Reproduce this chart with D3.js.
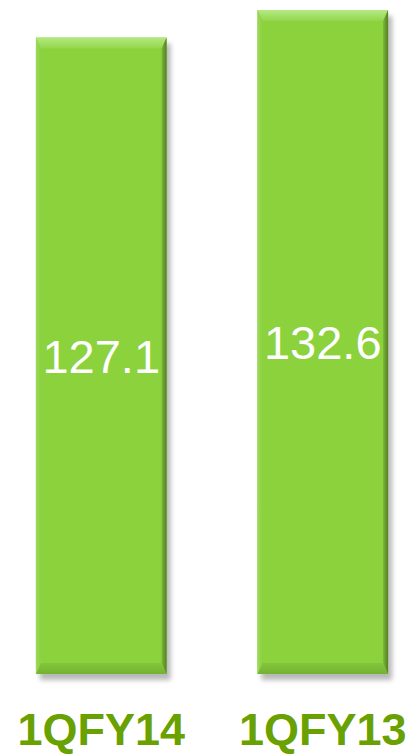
<!DOCTYPE html>
<html>
<head>
<meta charset="utf-8">
<script src="https://cdn.jsdelivr.net/npm/d3@7"></script>
<style>
  body { margin: 0; background: #fff; }
  svg { display: block; }
</style>
</head>
<body>
<svg id="chart" width="416" height="755"></svg>
<script>
// values
var categories = ['1QFY14', '1QFY13'];
var values = [127.1, 132.6];

var width = 416, height = 755;
var svg = d3.select('#chart');

var x = d3.scaleBand()
	.domain(categories)
	.range([-9.5, 433.5])
	.paddingInner(0.41)
	.paddingOuter(0.205);

var y = d3.scaleLinear()
	.domain([0, d3.max(values)])
	.range([674, 10]);

var defs = svg.append('defs');

// soft drop shadow
var f = defs.append('filter').attr('id', 'shadow')
	.attr('x', '-20%').attr('y', '-5%').attr('width', '140%').attr('height', '110%');
f.append('feGaussianBlur').attr('stdDeviation', 2.5);

function grad(id, x2, y2, stops) {
	var g = defs.append('linearGradient').attr('id', id)
		.attr('x1', 0).attr('y1', 0).attr('x2', x2).attr('y2', y2);
	stops.forEach(function (s) {
		g.append('stop').attr('offset', s[0]).attr('stop-color', s[1]);
	});
}
grad('topBevel', 0, 1, [[0, '#b4e982'], [1, '#94d64c']]);
grad('botBevel', 0, 1, [[0, '#82c63c'], [1, '#74b232']]);
grad('leftBevel', 1, 0, [[0, '#9ed85e'], [1, '#8ad23e']]);
grad('rightBevel', 1, 0, [[0, '#7ab836'], [1, '#557f22']]);

var bars = svg.selectAll('g.bar')
	.data(categories)
	.enter().append('g')
	.attr('class', 'bar');

var tb = 11, bb = 11, sb = 5; // bevel sizes

bars.each(function (c, i) {
	var g = d3.select(this);
	var x0 = x(c), w = x.bandwidth();
	var y0 = y(values[i]), y1 = y(0);

	g.append('rect')
		.attr('x', x0 + 4).attr('y', y0 + 6)
		.attr('width', w).attr('height', y1 - y0)
		.attr('fill', '#000').attr('opacity', 0.28)
		.attr('filter', 'url(#shadow)');

	g.append('rect')
		.attr('x', x0).attr('y', y0)
		.attr('width', w).attr('height', y1 - y0)
		.attr('fill', '#8bd23d');

	var poly = function (pts, fill) {
		g.append('polygon')
			.attr('points', pts.map(function (p) { return p.join(','); }).join(' '))
			.attr('fill', fill);
	};
	poly([[x0, y0], [x0 + w, y0], [x0 + w - sb, y0 + tb], [x0 + sb, y0 + tb]], 'url(#topBevel)');
	poly([[x0, y1], [x0 + sb, y1 - bb], [x0 + w - sb, y1 - bb], [x0 + w, y1]], 'url(#botBevel)');
	poly([[x0, y0], [x0 + sb, y0 + tb], [x0 + sb, y1 - bb], [x0, y1]], 'url(#leftBevel)');
	poly([[x0 + w, y0], [x0 + w, y1], [x0 + w - sb, y1 - bb], [x0 + w - sb, y0 + tb]], 'url(#rightBevel)');

	// value in the middle of the bar
	g.append('text')
		.attr('x', x0 + w / 2)
		.attr('y', (y0 + y1) / 2 + 17)
		.attr('text-anchor', 'middle')
		.attr('font-family', 'Liberation Sans, Arial, sans-serif')
		.attr('font-size', 47)
		.attr('fill', '#fff')
		.text(values[i]);
});

// category labels
svg.selectAll('text.cat')
	.data(categories)
	.enter().append('text')
	.attr('class', 'cat')
	.attr('x', function (d) { return x(d) + x.bandwidth() / 2; })
	.attr('y', 745)
	.attr('text-anchor', 'middle')
	.attr('font-family', 'Liberation Sans, Arial, sans-serif')
	.attr('font-weight', 'bold')
	.attr('font-size', 45)
	.attr('fill', '#68a100')
	.text(function (d) { return d; });
</script>
</body>
</html>
